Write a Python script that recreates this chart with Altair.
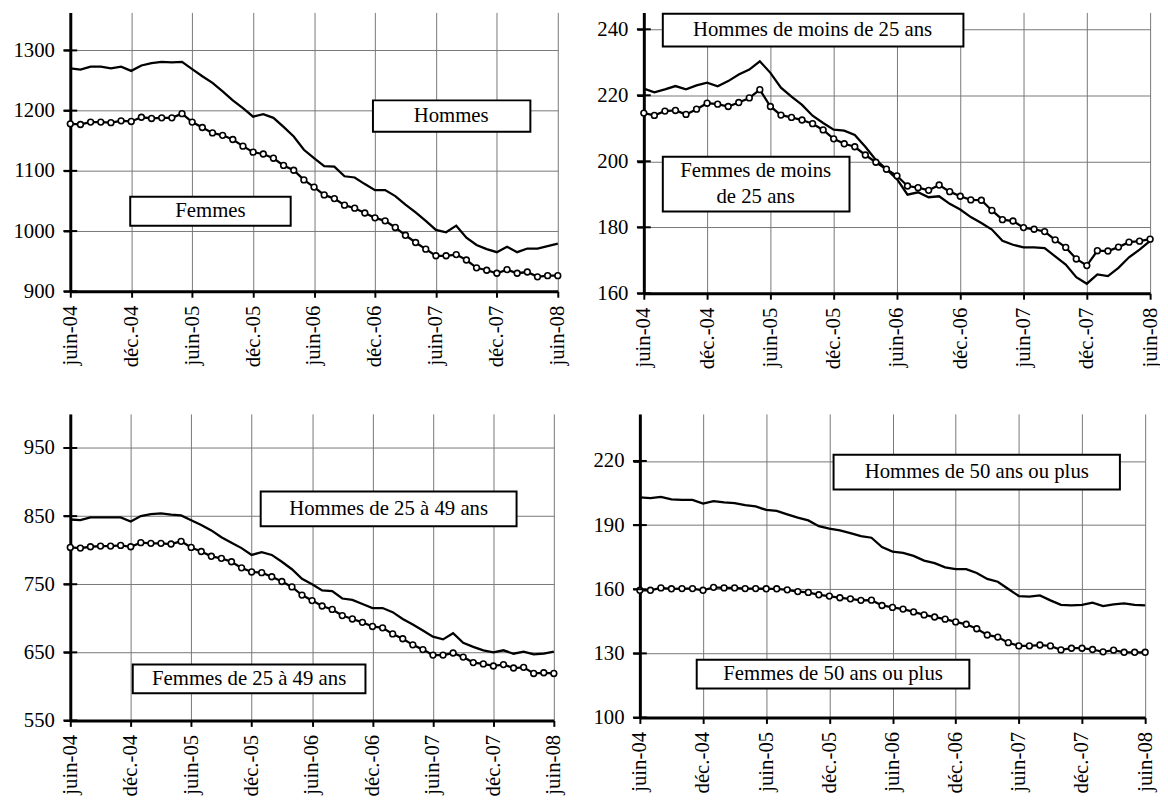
import altair as alt
import pandas as pd

# Month index 0..48 : juin-04 .. juin-08 (monthly)
TICK_LABELS = ["juin-04", "déc.-04", "juin-05", "déc.-05", "juin-06",
               "déc.-06", "juin-07", "déc.-07", "juin-08"]

# Panel 1 : ensemble
HOMMES = [1270, 1268, 1273, 1273, 1270, 1273, 1266, 1275, 1279, 1281, 1280, 1281,
          1269, 1257, 1246, 1232, 1217, 1204, 1190, 1194, 1188, 1173, 1157, 1135,
          1121, 1108, 1107, 1091, 1089, 1078, 1068, 1068, 1058, 1044, 1031, 1017,
          1002, 998, 1009, 989, 977, 970, 965, 974, 965, 971, 971, 975, 979]
FEMMES = [1178, 1177, 1181, 1181, 1180, 1183, 1182, 1189, 1187, 1188, 1188, 1195,
          1181, 1172, 1163, 1159, 1152, 1141, 1131, 1128, 1121, 1109, 1101, 1085,
          1073, 1060, 1054, 1043, 1038, 1030, 1022, 1017, 1006, 993, 981, 970,
          959, 959, 961, 952, 939, 935, 930, 936, 930, 932, 924, 926, 926]

# Panel 2 : moins de 25 ans
HOMMES_25 = [222.0, 220.9, 221.8, 222.8, 221.8, 223.0, 223.8, 222.7, 224.3, 226.3, 227.8, 230.3,
             226.8, 222.3, 219.6, 217.1, 213.8, 211.6, 209.6, 209.3, 208.0, 204.4, 200.4, 197.6,
             194.6, 189.9, 190.6, 189.1, 189.4, 187.1, 185.4, 183.1, 181.3, 179.3, 175.9, 174.7,
             173.9, 173.9, 173.7, 171.2, 168.7, 164.9, 162.9, 165.7, 165.2, 167.7, 170.9, 173.2, 175.9]
FEMMES_25 = [214.6, 213.9, 215.2, 215.4, 214.2, 215.8, 217.6, 217.3, 216.6, 217.8, 219.2, 221.7,
             216.6, 214.0, 213.3, 212.5, 211.4, 209.5, 206.8, 205.3, 204.4, 201.9, 199.7, 197.6,
             195.6, 192.5, 192.0, 191.2, 192.8, 190.8, 189.4, 188.3, 188.2, 185.1, 182.3, 181.9,
             179.9, 179.4, 178.7, 176.2, 173.9, 170.4, 168.4, 172.9, 172.8, 174.0, 175.5, 175.8, 176.4]

# Panel 3 : 25 a 49 ans
HOMMES_2549 = [845, 844, 848, 848, 848, 848, 842, 850, 853, 854, 852, 851,
               844, 837, 829, 819, 811, 803, 793, 797, 793, 783, 772, 758,
               750, 741, 740, 729, 727, 721, 715, 715, 709, 699, 691, 682,
               673, 669, 678, 664, 658, 653, 650, 653, 648, 651, 647, 648, 651]
FEMMES_2549 = [804, 803, 805, 806, 806, 807, 805, 811, 810, 810, 809, 813,
               804, 798, 791, 788, 783, 774, 768, 767, 761, 754, 746, 734,
               726, 718, 713, 704, 699, 694, 688, 686, 677, 670, 661, 654,
               646, 646, 649, 643, 635, 633, 630, 632, 627, 628, 619, 620, 619]

# Panel 4 : 50 ans ou plus
HOMMES_50 = [203.0, 202.6, 203.2, 202.0, 201.8, 201.8, 200.1, 201.2, 200.6, 200.3, 199.3, 198.7,
             197.1, 196.6, 195.0, 193.5, 192.2, 189.5, 188.4, 187.5, 186.2, 184.8, 184.1, 179.7,
             177.6, 177.0, 175.6, 173.4, 172.2, 170.2, 169.4, 169.4, 167.6, 164.8, 163.5, 160.1,
             156.8, 156.5, 157.1, 154.8, 152.7, 152.4, 152.7, 153.7, 152.1, 152.9, 153.4, 152.7, 152.4]
FEMMES_50 = [159.5, 159.5, 160.6, 160.2, 160.3, 160.3, 159.5, 160.9, 160.6, 160.6, 160.3, 160.3,
             160.2, 160.2, 159.7, 158.9, 158.5, 157.4, 156.8, 156.0, 155.5, 154.8, 154.9, 152.4,
             151.5, 150.7, 149.4, 148.0, 147.0, 146.0, 144.7, 143.6, 141.5, 138.6, 137.6, 135.0,
             133.5, 133.5, 133.9, 133.5, 131.6, 132.4, 132.4, 131.8, 130.7, 131.5, 130.5, 130.5, 130.5]

FONT = "'Liberation Serif', 'Times New Roman', Times, 'DejaVu Serif', serif"
FS = 21

label_arr = "[" + ",".join("'" + t + "'" for t in TICK_LABELS) + "]"
LABEL_EXPR = f"datum.value % 6 == 0 ? {label_arr}[datum.value / 6] : ''"


def panel(hommes, femmes, domain, yticks, width, height, boxes, texts):
    df = pd.DataFrame({"mois": list(range(len(hommes))), "hommes": hommes, "femmes": femmes})
    x = alt.X("mois:Q",
              scale=alt.Scale(domain=[0, 48], nice=False, zero=False),
              axis=alt.Axis(values=list(range(0, 49, 3)), labelExpr=LABEL_EXPR,
                            labelAngle=270, labelFlush=False, labelOverlap=False,
                            labelPadding=8, title=None, labelFont=FONT))
    yaxis = alt.Axis(values=yticks, title=None, labelPadding=9, tickSize=7, format="d",
                     labelFont=FONT)
    yscale = alt.Scale(domain=domain, nice=False, zero=False)
    base = alt.Chart(df)
    lh = base.mark_line(color="black", strokeWidth=2.3).encode(
        x=x, y=alt.Y("hommes:Q", scale=yscale, axis=yaxis))
    lf = base.mark_line(color="black", strokeWidth=2.3).encode(
        x=x, y=alt.Y("femmes:Q", scale=yscale, axis=yaxis))
    pf = base.mark_point(shape="circle", filled=True, fill="white", stroke="black",
                         strokeWidth=1.6, size=34, opacity=1).encode(
        x=x, y=alt.Y("femmes:Q", scale=yscale, axis=yaxis))
    # ticks crossing the y axis
    tdf = pd.DataFrame({"v": yticks, "m": [0] * len(yticks)})
    ticks = alt.Chart(tdf).mark_tick(orient="horizontal", size=14, thickness=2,
                                     color="black", opacity=1).encode(
        x=alt.X("m:Q"), y=alt.Y("v:Q"))
    bdf = pd.DataFrame(boxes)
    rect = alt.Chart(bdf).mark_rect(fill="white", stroke="black", strokeWidth=2).encode(
        x="x1:Q", x2="x2:Q", y="y1:Q", y2="y2:Q")
    tdf2 = pd.DataFrame(texts)
    txt = alt.Chart(tdf2).mark_text(font=FONT, fontSize=FS, color="black",
                                    align="center", baseline="middle").encode(
        x="tx:Q", y="ty:Q", text="label:N")
    return alt.layer(lh, lf, rect, txt, pf, ticks).properties(width=width, height=height)


p1 = panel(HOMMES, FEMMES, [900, 1363], [900, 1000, 1100, 1200, 1300], 493, 282,
           [{"x1": 29.8, "x2": 45.3, "y1": 1217, "y2": 1165},
            {"x1": 5.9, "x2": 21.7, "y1": 1057, "y2": 1009}],
           [{"tx": 37.5, "ty": 1191, "label": "Hommes"},
            {"tx": 13.8, "ty": 1033, "label": "Femmes"}])
p2 = panel(HOMMES_25, FEMMES_25, [160, 245.1], [160, 180, 200, 220, 240], 512, 284,
           [{"x1": 1.8, "x2": 30.3, "y1": 244.7, "y2": 234.8},
            {"x1": 1.8, "x2": 19.5, "y1": 201.4, "y2": 184.8}],
           [{"tx": 16.0, "ty": 239.8, "label": "Hommes de moins de 25 ans"},
            {"tx": 10.6, "ty": 196.9, "label": "Femmes de moins"},
            {"tx": 10.6, "ty": 189.1, "label": "de 25 ans"}])
p3 = panel(HOMMES_2549, FEMMES_2549, [550, 1000], [550, 650, 750, 850, 950], 489, 310,
           [{"x1": 18.9, "x2": 44.3, "y1": 886, "y2": 835},
            {"x1": 6.2, "x2": 29.3, "y1": 632, "y2": 590}],
           [{"tx": 31.6, "ty": 860.5, "label": "Hommes de 25 à 49 ans"},
            {"tx": 17.75, "ty": 611, "label": "Femmes de 25 à 49 ans"}])
p4 = panel(HOMMES_50, FEMMES_50, [100, 242], [100, 130, 160, 190, 220], 511, 307,
           [{"x1": 18.4, "x2": 45.6, "y1": 222.9, "y2": 206.7},
            {"x1": 5.4, "x2": 31.3, "y1": 127.0, "y2": 113.6}],
           [{"tx": 32.0, "ty": 214.8, "label": "Hommes de 50 ans ou plus"},
            {"tx": 18.35, "ty": 120.3, "label": "Femmes de 50 ans ou plus"}])

chart = alt.vconcat(
    alt.hconcat(p1, p2, spacing=28),
    alt.hconcat(p3, p4, spacing=28),
    spacing=45,
).properties(
    padding={"left": 5, "top": 0, "right": 0, "bottom": 5}
).configure(
    font=FONT,
).configure_view(
    strokeOpacity=0,
).configure_axis(
    labelFont=FONT, labelFontSize=FS, labelColor="black",
    domainColor="black", domainWidth=3,
    tickColor="black", tickWidth=2, tickSize=6,
    gridColor="#777777", gridWidth=1, gridOpacity=1,
)

chart.save("out.html", embed_options={"renderer": "svg", "actions": False})
